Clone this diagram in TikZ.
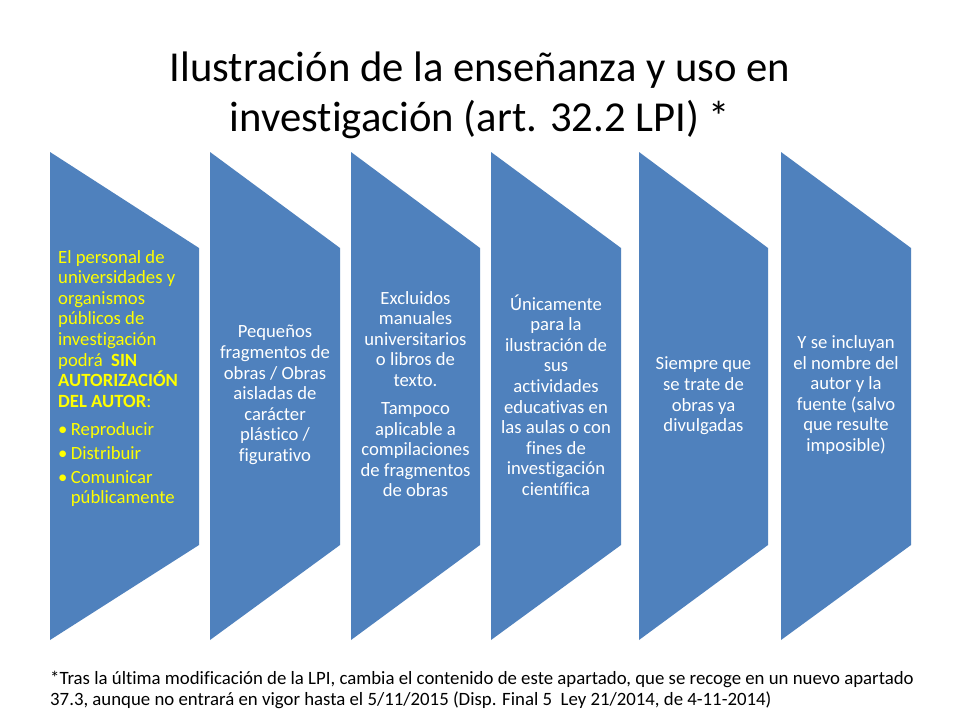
\documentclass[tikz,border=0pt]{standalone}
\usepackage{fontspec}
\setmainfont{Carlito}[Ligatures={NoCommon,TeX}]
\definecolor{chevblue}{HTML}{4F81BD}
\definecolor{hiyellow}{HTML}{FFFF00}
\begin{document}
\begin{tikzpicture}[x=1pt,y=-1pt,
  chev/.style={fill=chevblue, draw=none},
  boxtxt/.style={text=white, align=center, inner sep=0pt,
    font=\fontsize{18.67}{20.6}\selectfont},
  firsttxt/.style={text=hiyellow, align=left, inner sep=0pt, anchor=north west,
    font=\fontsize{18.67}{20.6}\selectfont},
  titletxt/.style={text=black, inner sep=0pt, anchor=base,
    font=\fontsize{42.67}{50}\selectfont},
  notetxt/.style={text=black, inner sep=0pt, anchor=base west,
    font=\fontsize{18.8}{21}\selectfont}]
\useasboundingbox (0,0) rectangle (960,720);
\fill[white] (0,0) rectangle (960,720);

% title
\node[titletxt] (title1) at (480,81) {Ilustración de la enseñanza y uso en};
\node[titletxt] (title2) at (480,131) {investigación (art. 32.2 LPI) *};

% chevrons
\foreach \l/\r in {50/199, 210/340, 351/480, 491/621, 639/768, 781/911}
  \fill[chev] (\l,152) -- (\r,248) -- (\r,545) -- (\l,640) -- cycle;

% texts
\node[firsttxt] (t1) at (58,250) {El personal de\\
universidades y\\
organismos\\
públicos de\\
investigación\\
podrá\ \ \textbf{SIN}\\
\textbf{AUTORIZACIÓN}\\
\textbf{DEL AUTOR}:\\[8pt]
\makebox[12.7pt][l]{\textbullet}Reproducir\\[3pt]
\makebox[12.7pt][l]{\textbullet}Distribuir\\[3pt]
\makebox[12.7pt][l]{\textbullet}Comunicar\\
\hspace*{12.7pt}públicamente};

\node[boxtxt] (t2) at (275,395) {Pequeños\\fragmentos de\\obras / Obras\\aisladas de\\carácter\\plástico /\\figurativo};

\node[boxtxt] (t3) at (415.5,394) {Excluidos\\manuales\\universitarios\\o libros de\\texto.\\[7.4pt]Tampoco\\aplicable a\\compilaciones\\de fragmentos\\de obras};

\node[boxtxt] (t4) at (556,395) {Únicamente\\para la\\ilustración de\\sus\\actividades\\educativas en\\las aulas o con\\fines de\\investigación\\científica};

\node[boxtxt] (t5) at (703.5,396) {Siempre que\\se trate de\\obras ya\\divulgadas};

\node[boxtxt] (t6) at (846,395) {Y se incluyan\\el nombre del\\autor y la\\fuente (salvo\\que resulte\\imposible)};

% footnote
\node[notetxt] (note1) at (50,684) {*Tras la última modificación de la LPI, cambia el contenido de este apartado, que se recoge en un nuevo apartado};
\node[notetxt] (note2) at (50,705) {37.3, aunque no entrará en vigor hasta el 5/11/2015 (Disp. Final 5\ \ Ley 21/2014, de 4-11-2014)};
\end{tikzpicture}
\end{document}
